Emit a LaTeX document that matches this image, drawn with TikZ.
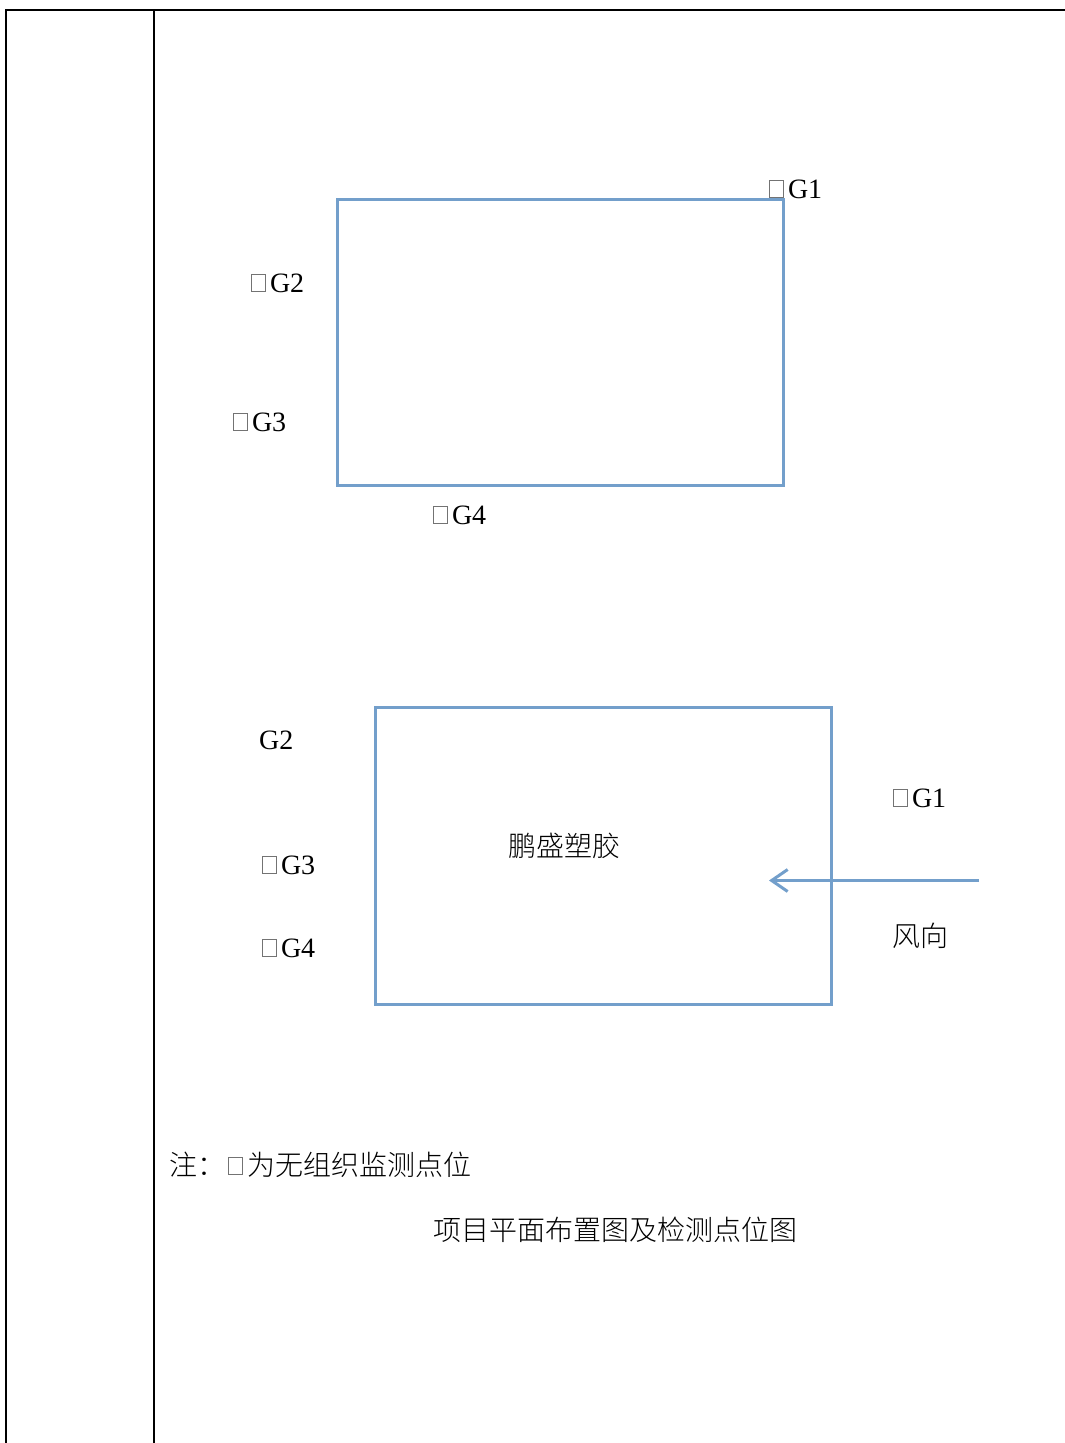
\documentclass[tikz,border=0pt]{standalone}
\usepackage{fontspec}
\setmainfont{Liberation Serif}
\newfontfamily\cjk[UprightFont=* Light]{Noto Sans CJK SC}
\usetikzlibrary{arrows.meta}
\definecolor{boxblue}{HTML}{739FCB}
\newcommand{\sq}{\tikz[baseline=-1pt]\draw[line width=0.8pt,black!55] (0,0) rectangle (14pt,17pt);\hspace{4pt}}
\tikzset{x=1pt,y=-1pt,
  rule/.style={line width=2pt,black},
  blue box/.style={draw=boxblue,line width=3pt,fill=none},
  lab/.style={inner sep=0pt,font=\fontsize{28}{32}\selectfont,anchor=base west},
  cn/.style={inner sep=0pt,font=\fontsize{28}{32}\selectfont\cjk,anchor=base}}
\begin{document}
\begin{tikzpicture}
\useasboundingbox (0,0) rectangle (1065,1443);
\coordinate (tl) at (6,10);
\coordinate (tm) at (154,10);
\coordinate (tr) at (1065,10);
\coordinate (bl) at (6,1443);
\coordinate (bm) at (154,1443);
\draw[rule] (tr) -- (tl) -- (bl);
\draw[rule] (tm) -- (bm);
\coordinate (a1) at (337,199.5); \coordinate (a2) at (783,485.5);
\draw[blue box] (a1) rectangle (a2);
\coordinate (c1) at (375,707.5); \coordinate (c2) at (831,1004);
\draw[blue box] (c1) rectangle (c2);
\node[lab] (g1a) at (769,198) {\sq G1};
\node[lab] (g2a) at (251,292) {\sq G2};
\node[lab] (g3a) at (233,431) {\sq G3};
\node[lab] (g4a) at (433,524) {\sq G4};
\node[lab] (g2b) at (259,749) {G2};
\node[lab] (g1b) at (893,807) {\sq G1};
\node[lab] (g3b) at (262,874) {\sq G3};
\node[lab] (g4b) at (262,957) {\sq G4};
\node[cn] (name) at (564,856) {鹏盛塑胶};
\node[cn] (wind) at (920,946) {风向};
\coordinate (w1) at (979,880.5); \coordinate (w2) at (769,880.5);
\draw[draw=boxblue,line width=3pt,-{Straight Barb[length=16pt,width=22pt,line width=3pt]}] (w1) -- (w2);
\node[lab] (note) at (169,1175) {{\cjk 注：}\hspace{3pt}\sq{\cjk 为无组织监测点位}};
\node[cn] (cap) at (615,1240) {项目平面布置图及检测点位图};
\end{tikzpicture}
\end{document}
